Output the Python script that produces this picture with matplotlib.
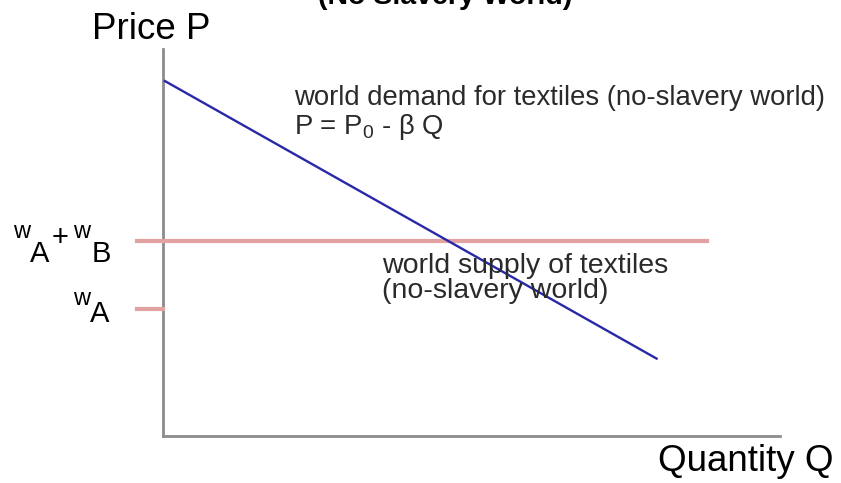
import matplotlib
matplotlib.use("Agg")
import matplotlib.pyplot as plt

plt.rcParams['font.family'] = ['Liberation Sans', 'DejaVu Sans']
plt.rcParams['mathtext.fontset'] = 'custom'
plt.rcParams['mathtext.rm'] = 'Liberation Sans'

# demand curve P = P0 - beta*Q (no-slavery world)
P0 = 92.0
beta = 0.90
demand_q = [0.3, 80.0]
demand_p = [P0 - beta * q for q in demand_q]

# supply level and wage markers
w_A = 32.8
w_B = 17.6
supply_q = [-4.2, 88.2]
tick_q = [-4.2, 0.0]

fig = plt.figure(figsize=(8.41, 4.83), dpi=100)
ax = fig.add_axes([163 / 841, 47 / 483, 617 / 841, 387 / 483])
ax.set_xlim(0, 100)
ax.set_ylim(0, 100)

axis_gray = '#8c8c8c'
for side in ['top', 'right']:
    ax.spines[side].set_visible(False)
for side in ['left', 'bottom']:
    ax.spines[side].set_color(axis_gray)
    ax.spines[side].set_linewidth(2.0)
    ax.spines[side].set_zorder(1)
ax.set_xticks([])
ax.set_yticks([])

red = '#e3a2a2'
ax.plot(supply_q, [w_A + w_B] * 2, color=red, lw=3.0, clip_on=False, zorder=2)
ax.plot(tick_q, [w_A] * 2, color=red, lw=3.0, clip_on=False, zorder=2)
ax.plot(demand_q, demand_p, color='#2828a8', lw=1.7, zorder=3)


def piece(txt, level, dx, dy, size):
    # small raised "w" and big lowered letter, as in the original drawing
    ax.annotate(txt, xy=(0, level), xytext=(dx, dy), textcoords='offset pixels',
                ha='left', va='baseline', fontsize=size, annotation_clip=False)


lvl = w_A + w_B
piece('w', lvl, -150, 3, 17)
piece('A', lvl, -133, -21, 21)
piece('+', lvl, -111, -5, 21)
piece('w', lvl, -90, 3, 17)
piece('B', lvl, -71, -21, 21)
piece('w', w_A, -90, 4, 17)
piece('A', w_A, -73, -13, 21)

ax.text(21.2, 78.1, 'world demand for textiles (no-slavery world)\n'
        r'P = $\mathregular{P_0}$ - β Q',
        fontsize=19.8, color='#2a2a2a', va='baseline', ha='left', linespacing=1.05)
ax.text(35.5, 35.7, 'world supply of textiles\n(no-slavery world)',
        fontsize=20.5, color='#2a2a2a', va='baseline', ha='left', linespacing=0.95)

fig.text(445 / 841, 1 - 4 / 483, '(No Slavery World)', fontsize=20.5,
         fontweight='bold', ha='center', va='baseline')
fig.text(92 / 841, 1 - 39 / 483, 'Price P', fontsize=26.5, ha='left', va='baseline')
fig.text(658 / 841, 1 - 471 / 483, 'Quantity Q', fontsize=26.5, ha='left', va='baseline')

fig.savefig('out.png', dpi=100)
